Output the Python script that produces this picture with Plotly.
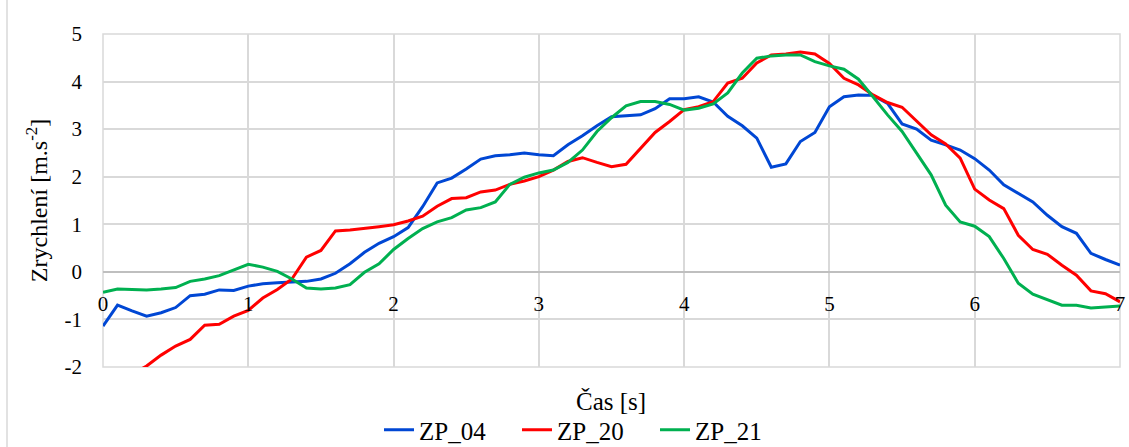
import plotly.graph_objects as go

# time axis, sampled every 0.1 s
time_s = [round(i * 0.1, 1) for i in range(71)]

zp_04 = [-1.14, -0.70, -0.82, -0.93, -0.86, -0.75, -0.50, -0.47, -0.38, -0.39,
         -0.30, -0.25, -0.23, -0.21, -0.20, -0.15, -0.03, 0.17, 0.41, 0.60,
         0.74, 0.93, 1.37, 1.87, 1.97, 2.16, 2.37, 2.44, 2.46, 2.50,
         2.46, 2.44, 2.67, 2.86, 3.07, 3.26, 3.28, 3.30, 3.43, 3.64,
         3.64, 3.68, 3.57, 3.27, 3.07, 2.81, 2.20, 2.27, 2.74, 2.93,
         3.47, 3.68, 3.72, 3.71, 3.54, 3.11, 3.00, 2.77, 2.67, 2.56,
         2.38, 2.14, 1.83, 1.65, 1.47, 1.19, 0.95, 0.81, 0.39, 0.26,
         0.14]

zp_20 = [-2.55, -2.35, -2.15, -1.98, -1.75, -1.56, -1.42, -1.12, -1.10, -0.93,
         -0.81, -0.55, -0.37, -0.15, 0.31, 0.45, 0.86, 0.88, 0.91, 0.95,
         0.99, 1.07, 1.17, 1.38, 1.54, 1.56, 1.68, 1.72, 1.84, 1.91,
         2.00, 2.14, 2.32, 2.40, 2.30, 2.21, 2.26, 2.60, 2.93, 3.16,
         3.41, 3.47, 3.58, 3.97, 4.07, 4.39, 4.56, 4.58, 4.62, 4.58,
         4.38, 4.07, 3.93, 3.72, 3.56, 3.46, 3.16, 2.88, 2.69, 2.39,
         1.74, 1.51, 1.33, 0.77, 0.47, 0.37, 0.14, -0.07, -0.40, -0.46,
         -0.63]

zp_21 = [-0.43, -0.36, -0.37, -0.38, -0.36, -0.33, -0.20, -0.15, -0.08, 0.04,
         0.16, 0.10, 0.01, -0.15, -0.34, -0.36, -0.34, -0.27, -0.01, 0.17,
         0.47, 0.70, 0.91, 1.05, 1.14, 1.30, 1.35, 1.47, 1.84, 1.99,
         2.08, 2.14, 2.30, 2.56, 2.95, 3.24, 3.49, 3.58, 3.58, 3.52,
         3.40, 3.44, 3.53, 3.76, 4.18, 4.49, 4.54, 4.56, 4.56, 4.42,
         4.33, 4.26, 4.05, 3.68, 3.30, 2.95, 2.49, 2.04, 1.40, 1.05,
         0.96, 0.74, 0.28, -0.24, -0.47, -0.58, -0.70, -0.70, -0.76, -0.74,
         -0.72]

series_names = ["ZP_04", "ZP_20", "ZP_21"]
series_colors = ["#0047d4", "#ff0000", "#00b050"]

y_ticks = [-2, -1, 0, 1, 2, 3, 4, 5]
y_tick_text = ["-2", "-1", "0", "1", "2", "3", "4", "5"]
x_ticks = [0, 1, 2, 3, 4, 5, 6, 7]

FONT = "Liberation Serif"
GRID = "#d9d9d9"
TICK_FONT = dict(family=FONT, size=21, color="black")
YTITLE_FONT = dict(family=FONT, size=24, color="black")
LABEL_FONT = dict(family=FONT, size=25, color="black")

# plot area in pixels
W, H = 1129, 447
L, R, T, B = 103, 9, 34, 80
PH = H - T - B
PW = W - L - R

fig = go.Figure()
for name, vals, color in zip(series_names, [zp_04, zp_20, zp_21], series_colors):
    fig.add_trace(go.Scatter(
        x=time_s, y=vals, name=name, mode="lines",
        line=dict(color=color, width=3),
    ))

fig.update_layout(
    width=W, height=H,
    margin=dict(l=L, r=R, t=T, b=B, autoexpand=False),
    paper_bgcolor="white", plot_bgcolor="white",
    font=TICK_FONT,
    showlegend=True,
    legend=dict(
        orientation="h", x=(586 - L) / PW, xanchor="center",
        y=-(430 - (T + PH)) / PH, yanchor="middle",
        font=LABEL_FONT, tracegroupgap=0, bgcolor="rgba(0,0,0,0)",
        entrywidth=93, entrywidthmode="pixels",
    ),
    xaxis=dict(
        range=[0, 7], tickvals=x_ticks,
        showgrid=True, gridcolor=GRID, gridwidth=1.5,
        zeroline=False, showline=False, ticks="",
        anchor="free", position=2 / 7,
        ticklabelstandoff=17,
        tickfont=TICK_FONT,
    ),
    yaxis=dict(
        range=[-2, 5], tickvals=y_ticks, ticktext=y_tick_text,
        showgrid=True, gridcolor=GRID, gridwidth=1.5,
        zeroline=True, zerolinecolor="#bfbfbf", zerolinewidth=2,
        showline=False, ticks="", ticklabelstandoff=20,
        tickfont=TICK_FONT,
        title=dict(text="Zrychlení [m.s<sup>-2</sup>]", standoff=10,
                   font=YTITLE_FONT),
    ),
    shapes=[
        dict(type="rect", xref="x domain", yref="y domain",
             x0=0, x1=1, y0=0, y1=1, line=dict(color=GRID, width=1.5),
             layer="below"),
        dict(type="line", xref="paper", yref="paper",
             x0=-(L - 7) / PW, x1=-(L - 7) / PW, y0=-1, y1=2,
             line=dict(color=GRID, width=1.5)),
    ],
    annotations=[
        dict(text="Čas [s]", xref="paper", yref="paper",
             x=(611 - L) / PW, y=-(401 - (T + PH)) / PH,
             xanchor="center", yanchor="middle",
             showarrow=False, font=LABEL_FONT),
    ],
)

fig.write_html("out.html")
